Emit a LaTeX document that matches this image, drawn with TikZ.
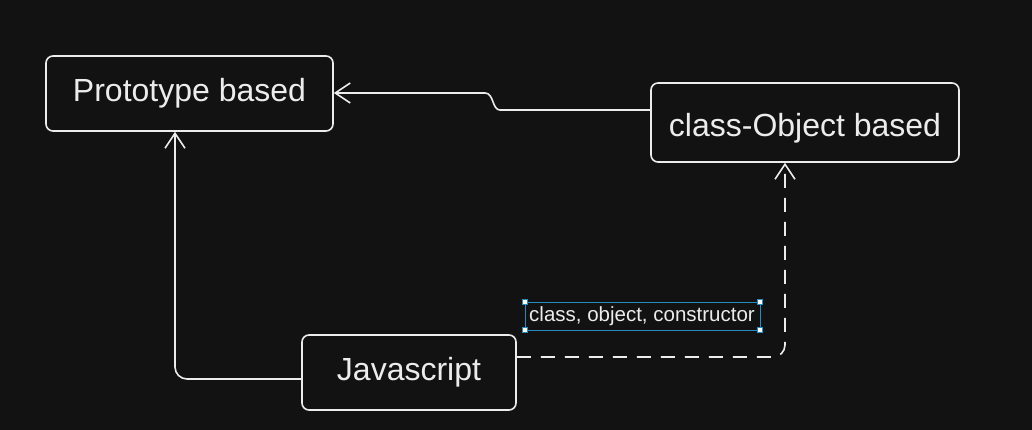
\documentclass[tikz,border=0pt]{standalone}
\usepackage{fontspec}
\setmainfont{Liberation Sans}
\usetikzlibrary{arrows.meta}
\definecolor{bg}{RGB}{18,18,18}
\definecolor{ink}{RGB}{236,236,236}
\definecolor{selblue}{RGB}{36,140,190}
\tikzset{
  box/.style={draw=ink, line width=1.6pt, rounded corners=7pt, text=ink,
    font=\fontsize{32}{38}\selectfont, inner sep=0pt},
  conn/.style={draw=ink, line width=1.6pt, rounded corners=12pt,
    -{Straight Barb[length=15pt,width=20pt,line width=1.6pt]}},
  dashconn/.style={conn, dash pattern=on 14pt off 10pt},
  lbl/.style={text=ink, font=\fontsize{20.5}{24}\selectfont, inner sep=0pt},
  selbox/.style={draw=selblue, line width=1pt},
  handle/.style={draw=selblue, fill=white, line width=0.8pt, minimum size=5pt, inner sep=0pt}
}
\begin{document}
\begin{tikzpicture}[x=1pt,y=-1pt]
  \fill[bg] (0,0) rectangle (1032,430);
  \useasboundingbox (0,0) rectangle (1032,430);

  \node[box, minimum width=287pt, minimum height=75pt] (pb) at (189.5,93.5) {Prototype based};
  \node[box, minimum width=308pt, minimum height=79pt, text height=28pt, text depth=0pt] (co) at (805,122.5) {class-Object based};
  \node[box, minimum width=214pt, minimum height=75pt] (js) at (409,372.5) {Javascript};

  % top connector with small step
  \draw[conn, rounded corners=0pt] ([yshift=12.5pt]co.west) -- (500,110)
     .. controls (492,110) and (494,93) .. (485,93) -- ([yshift=0.5pt]pb.east);

  % left connector
  \draw[conn] ([yshift=-6.5pt]js.west) -| ([xshift=-14.5pt]pb.south);

  % dashed connector
  \draw[dashconn] ([yshift=15.5pt]js.east) -| ([xshift=-20pt]co.south);

  % label with selection frame
  \node[lbl] (lab) at (642,316) {class, object, constructor};
  \draw[selbox] (525,302) rectangle (760,330);
  \node[handle] (h1) at (525,302) {};
  \node[handle] (h2) at (760,302) {};
  \node[handle] (h3) at (525,330) {};
  \node[handle] (h4) at (760,330) {};
\end{tikzpicture}
\end{document}
